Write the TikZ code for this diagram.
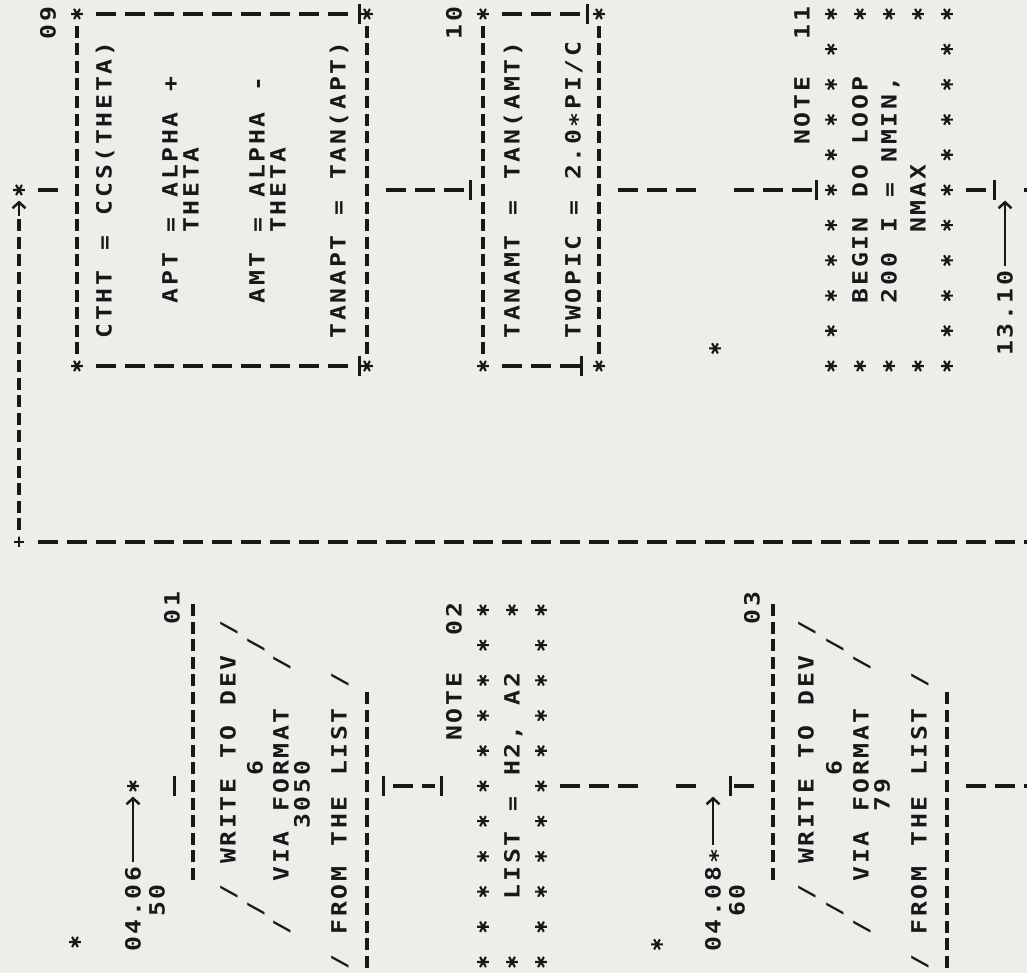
\documentclass[tikz,border=0pt]{standalone}
\usepackage{fontspec}
\newfontfamily\pf{DejaVu Sans Mono}[FakeStretch=1.18]
\usetikzlibrary{arrows.meta}
\definecolor{paper}{RGB}{237,237,234}
\definecolor{ink}{RGB}{24,24,24}
\ExplSyntaxOn
\dim_new:N \l_pitch_dim
\dim_set:Nn \l_pitch_dim {17.6pt}
\NewDocumentCommand{\pr}{m}
 {
  \str_map_inline:nn {#1}
   {
    \str_if_eq:nnTF {##1} {_}
     { \hbox_to_wd:nn {\l_pitch_dim} {} }
     {
      \str_if_eq:nnTF {##1} {*}
       { \hbox_to_wd:nn {\l_pitch_dim} {\hfil\raisebox{-0.2em}{*}\hfil} }
       { \hbox_to_wd:nn {\l_pitch_dim} {\hfil ##1\hfil} }
     }
   }
 }
\ExplSyntaxOff
\tikzset{
  declare function={yt(\x)=607+17.6*\x; yb(\x)=11+17.6*\x;},
  txt/.style={font=\pf\bfseries\fontsize{21}{21}\selectfont, text=ink, rotate=90, anchor=west, inner sep=0pt, outer sep=0pt, text height=15.3pt, text depth=0pt},
  vd/.style={draw=ink, line width=3.1pt, dash pattern=on 12pt off 5.6pt},
  hd/.style={draw=ink, line width=3.3pt, dash pattern=on 20pt off 9pt},
  tk/.style={draw=ink, line width=3pt},
  arr/.style={draw=ink, line width=2.5pt, -{Straight Barb[length=6pt,width=13pt]}},
  starmark/.style={circle, inner sep=0pt, minimum size=12pt, path picture={
     \draw[ink, line width=2.1pt]
       (path picture bounding box.center) +(0:6pt) -- +(180:6pt)
       (path picture bounding box.center) +(60:6pt) -- +(240:6pt)
       (path picture bounding box.center) +(120:6pt) -- +(300:6pt);}},
  plusmark/.style={circle, inner sep=0pt, minimum size=11pt, path picture={
     \draw[ink, line width=2.6pt]
       (path picture bounding box.center) +(0:5.5pt) -- +(180:5.5pt)
       (path picture bounding box.center) +(90:5.5pt) -- +(270:5.5pt);}}
}
\begin{document}
\begin{tikzpicture}[x=1pt,y=1pt]
\useasboundingbox (0,0) rectangle (1027,973);
\fill[paper] (0,0) rectangle (1027,973);

% ================= upper strip =================
\node[plusmark] (plus) at (19,431) {};
\coordinate (lineend) at (1044,431);
\draw[hd] ([xshift=19pt]plus.center) -- (lineend);
\node[starmark] (s0) at (19,{yt(10)}) {};
\coordinate (a0) at (19,{yt(8)+6});
\draw[vd] ([yshift=11.6pt]plus.center) -- (a0);
\draw[arr] (19,{yt(8.55)}) -- (19,{yt(9.4)});

% box 09
\node[txt] (t09) at (48,{yt(18.5)}) {\pr{09}};
\coordinate (b09sw) at (77,{yt(0)});
\coordinate (b09nw) at (77,{yt(20)});
\coordinate (b09se) at (367,{yt(0)});
\coordinate (b09ne) at (367,{yt(20)});
\coordinate (b09w) at (77,{yt(10)});
\coordinate (b09e) at (367,{yt(10)});
\draw[hd] ([xshift=19pt]s0.center) -- ([xshift=-19pt]b09w);
\draw[vd] ([yshift=11.6pt]b09sw) -- ([yshift=-11.6pt]b09nw);
\draw[vd] ([yshift=11.6pt]b09se) -- ([yshift=-11.6pt]b09ne);
\draw[hd] ([xshift=19pt]b09sw) -- ([xshift=-19pt]b09se);
\draw[hd] ([xshift=19pt]b09nw) -- ([xshift=-19pt]b09ne);
\foreach \p in {b09sw,b09nw,b09se,b09ne} \node[starmark] (st-\p) at (\p) {};
\draw[tk] (359,{yt(19.45)}) -- (359,{yt(20.55)});
\draw[tk] (359,{yt(-0.55)}) -- (359,{yt(0.55)});
\node[txt] (t-ctht) at (104,{yt(1.5)}) {\pr{CTHT = CCS(THETA)}};
\node[txt] (t-apt) at (170,{yt(3.5)}) {\pr{APT = ALPHA +}};
\node[txt] (t-th1) at (191,{yt(7.5)}) {\pr{THETA}};
\node[txt] (t-amt) at (257,{yt(3.5)}) {\pr{AMT = ALPHA -}};
\node[txt] (t-th2) at (278,{yt(7.5)}) {\pr{THETA}};
\node[txt] (t-tanapt) at (338,{yt(1.5)}) {\pr{TANAPT = TAN(APT)}};

% box 10
\node[txt] (t10) at (454,{yt(18.5)}) {\pr{10}};
\coordinate (b10sw) at (483,{yt(0)});
\coordinate (b10nw) at (483,{yt(20)});
\coordinate (b10se) at (599,{yt(0)});
\coordinate (b10ne) at (599,{yt(20)});
\coordinate (b10w) at (483,{yt(10)});
\coordinate (b10e) at (599,{yt(10)});
\draw[hd] ([xshift=19pt]b09e) -- ([xshift=-19pt]b10w);
\draw[tk] (470,{yt(9.45)}) -- (470,{yt(10.55)});
\draw[vd] ([yshift=11.6pt]b10sw) -- ([yshift=-11.6pt]b10nw);
\draw[vd] ([yshift=11.6pt]b10se) -- ([yshift=-11.6pt]b10ne);
\draw[hd] ([xshift=19pt]b10sw) -- ([xshift=-19pt]b10se);
\draw[hd] ([xshift=19pt]b10nw) -- ([xshift=-19pt]b10ne);
\foreach \p in {b10sw,b10nw,b10se,b10ne} \node[starmark] (st-\p) at (\p) {};
\draw[tk] (587,{yt(19.45)}) -- (587,{yt(20.55)});
\draw[tk] (581,{yt(-0.55)}) -- (581,{yt(0.55)});
\node[txt] (t-tanamt) at (512,{yt(1.5)}) {\pr{TANAMT = TAN(AMT)}};
\node[txt] (t-twopic) at (573,{yt(1.5)}) {\pr{TWOPIC = 2.0*PI/C}};

% connector to note 11
\coordinate (g1) at (696,{yt(10)});
\coordinate (g2) at (734,{yt(10)});
\coordinate (n11w) at (831,{yt(10)});
\coordinate (n11e) at (947,{yt(10)});
\draw[hd] ([xshift=19pt]b10e) -- (g1);
\draw[hd] (g2) -- ([xshift=-19pt]n11w);
\draw[tk] (816,{yt(9.45)}) -- (816,{yt(10.55)});
\node[starmark] (stray1) at (715,{yt(1)}) {};

% note 11
\node[txt] (t-note11) at (802,{yt(12.5)}) {\pr{NOTE__11}};
\foreach \k in {0,...,10} {
  \node[starmark] (n11a\k) at (831,{yt(2*\k)}) {};
  \node[starmark] (n11b\k) at (947,{yt(2*\k)}) {};
}
\foreach \xx/\nm in {860/a,889/b,918/c} {
  \node[starmark] (n11l\nm) at (\xx,{yt(0)}) {};
  \node[starmark] (n11u\nm) at (\xx,{yt(20)}) {};
}
\node[txt] (t-begin) at (860,{yt(3.5)}) {\pr{BEGIN DO LOOP}};
\node[txt] (t-200) at (889,{yt(3.5)}) {\pr{200 I = NMIN,}};
\node[txt] (t-nmax) at (918,{yt(7.5)}) {\pr{NMAX}};

% exit to the right
\coordinate (g3) at (986,{yt(10)});
\draw[hd] ([xshift=19pt]n11e) -- (g3);
\draw[tk] (994,{yt(9.45)}) -- (994,{yt(10.55)});
\node[txt] (t-1310) at (1005,{yt(0.5)}) {\pr{13.10}};
\draw[arr, shorten <=3pt] (t-1310.east) -- (1005,{yt(9.4)});
\draw[hd] (1024,{yt(10)}) -- (1044,{yt(10)});

% ================= lower strip =================
\node[starmark] (stray2) at (75,31) {};
\node[txt] (t-0406) at (133,{yb(0.5)}) {\pr{04.06}};
\node[starmark] (s4) at (133,{yb(10)}) {};
\draw[arr, shorten <=3pt] (t-0406.east) -- (133,{yb(9.4)});
\node[txt] (t50) at (157,{yb(2.5)}) {\pr{50}};
\node[txt] (t01) at (172,{yb(19.1)}) {\pr{01}};
\coordinate (p01w) at (193,{yb(10)});
\coordinate (p01e) at (367,{yb(10)});
\draw[tk] (174,{yb(9.45)}) -- (174,{yb(10.55)});
\draw[vd] (193,{yb(5)-6}) -- (193,{yb(20)+6});
\node[txt] (t-w1) at (228,{yb(3.5)}) {\pr{/ WRITE TO DEV /}};
\node[txt] (t-61) at (255,{yb(2.5)}) {\pr{/_______6______/}};
\node[txt] (t-v1) at (281,{yb(1.5)}) {\pr{/__VIA FORMAT__/}};
\node[txt] (t-3050) at (302,{yb(7.5)}) {\pr{3050}};
\node[txt] (t-f1) at (339,{yb(-0.5)}) {\pr{/ FROM THE LIST /}};
\draw[vd] (367,{yb(-1)-6}) -- (367,{yb(15)+6});

% to note 02
\coordinate (g4) at (435,{yb(10)});
\draw[tk] (383,{yb(9.45)}) -- (383,{yb(10.55)});
\draw[hd] ([xshift=26pt]p01e) -- (g4);
\draw[tk] (441,{yb(9.45)}) -- (441,{yb(10.55)});
\node[txt] (t-note02) at (454,{yb(12.5)}) {\pr{NOTE__02}};
\foreach \k in {0,...,10} {
  \node[starmark] (n02a\k) at (483,{yb(2*\k)}) {};
  \node[starmark] (n02b\k) at (541,{yb(2*\k)}) {};
}
\node[starmark] (n02l) at (512,{yb(0)}) {};
\node[starmark] (n02u) at (512,{yb(20)}) {};
\node[txt] (t-list) at (512,{yb(3.5)}) {\pr{LIST = H2, A2}};
\coordinate (n02e) at (541,{yb(10)});

% to write 03
\coordinate (g5) at (638,{yb(10)});
\draw[hd] ([xshift=19pt]n02e) -- (g5);
\node[starmark] (stray3) at (657,{yb(1)}) {};
\draw[hd] (676,{yb(10)}) -- (696,{yb(10)});
\node[txt] (t-0408) at (713,{yb(0.5)}) {\pr{04.08*}};
\draw[arr, shorten <=3pt] (t-0408.east) -- (713,{yb(9.4)});
\draw[tk] (730,{yb(9.45)}) -- (730,{yb(10.55)});
\coordinate (p03w) at (773,{yb(10)});
\coordinate (p03e) at (947,{yb(10)});
\draw[hd] (734,{yb(10)}) -- ([xshift=-19pt]p03w);
\node[txt] (t60) at (737,{yb(2.5)}) {\pr{60}};
\node[txt] (t03) at (752,{yb(19.1)}) {\pr{03}};
\draw[vd] (773,{yb(5)-6}) -- (773,{yb(20)+6});
\node[txt] (t-w3) at (806,{yb(3.5)}) {\pr{/ WRITE TO DEV /}};
\node[txt] (t-63) at (834,{yb(2.5)}) {\pr{/_______6______/}};
\node[txt] (t-v3) at (861,{yb(1.5)}) {\pr{/__VIA FORMAT__/}};
\node[txt] (t-79) at (882,{yb(8.5)}) {\pr{79}};
\node[txt] (t-f3) at (919,{yb(-0.5)}) {\pr{/ FROM THE LIST /}};
\draw[vd] (947,{yb(-1)-6}) -- (947,{yb(15)+6});
\draw[hd] ([xshift=19pt]p03e) -- (1044,{yb(10)});
\end{tikzpicture}
\end{document}
